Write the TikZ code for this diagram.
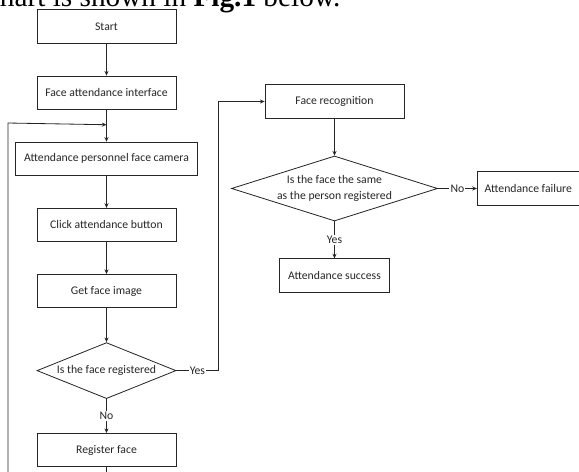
\documentclass[tikz,border=0pt]{standalone}
\usepackage{fontspec}
\setmainfont{Carlito}
\newfontfamily\capfont{Liberation Serif}
\usetikzlibrary{shapes.geometric, arrows.meta, positioning}
\tikzstyle{process} = [rectangle, 
minimum width=4.17cm, 
minimum height=1cm, 
text centered, 
draw=black!85, line width=0.7pt]
\tikzstyle{decision} = [diamond, 
aspect=2.5, inner sep=0pt,
minimum width=4.17cm, 
minimum height=1.68cm, 
text centered, 
draw=black!85, line width=0.7pt]
\tikzstyle{answer} = [fill=white, inner sep=1pt]
\tikzstyle{arrow} = [line width=0.7pt, draw=black!85, -{Stealth[length=4pt,width=3.5pt]}]

\begin{document}
\begin{tikzpicture}[node distance=0.96cm, font=\fontsize{10}{13.5}\selectfont, text=black!85]
        \useasboundingbox (0,0) rectangle (17.37,-14.13);
        \clip (0,0) rectangle (17.37,-14.13);

        \node (caption) [anchor=base west, inner sep=0pt, text=black] at (-0.4,-0.18) {\capfont\fontsize{25}{30}\selectfont chart is shown in \textbf{Fig.1} below.};

        \node (start) [process] at (3.195,-0.795) {Start};
        \node (interface) [process, below=of start] {Face attendance interface};
        \node (camera) [process, minimum width=5.46cm, below=of interface] {Attendance personnel face camera};
        \node (click) [process, below=of camera] {Click attendance button};
        \node (getimage) [process, below=of click] {Get face image};
        \node (registered) [decision, below=1.02cm of getimage] {Is the face registered};
        \node (register) [process, below=1.02cm of registered] {Register face};

        \node (recog) [process] at (10.035,-3.045) {Face recognition};
        \node (same) [decision, aspect=3.17, minimum width=6.18cm, minimum height=1.95cm, align=center, below=1.11cm of recog] {Is the face the same\\as the person registered};
        \node (failure) [process, minimum width=3.06cm, right=1.17cm of same] {Attendance failure};
        \node (success) [process, minimum width=3.3cm, below=1.11cm of same] {Attendance success};

        \coordinate (loopin) at ([yshift=-0.45cm]interface.south);
        \coordinate (loopcorner) at (0.24,-3.69);

        \draw [arrow] (start) -- (interface);
        \draw [arrow] (interface) -- (camera);
        \draw [arrow] (camera) -- (click);
        \draw [arrow] (click) -- (getimage);
        \draw [arrow] (getimage) -- (registered);
        \draw [arrow] (registered) -- node[answer] {No} (register);
        \draw [arrow] (register.south) -- ++(0,-1) -| (loopcorner) -- (loopin);

        \draw [arrow] (registered.east) -- ++(1.26,0) node[midway, answer] {Yes} |- (recog.west);
        \draw [arrow] (recog) -- (same);
        \draw [arrow] (same) -- node[answer] {No} (failure);
        \draw [arrow] (same) -- node[answer] {Yes} (success);

    \end{tikzpicture}
\end{document}
